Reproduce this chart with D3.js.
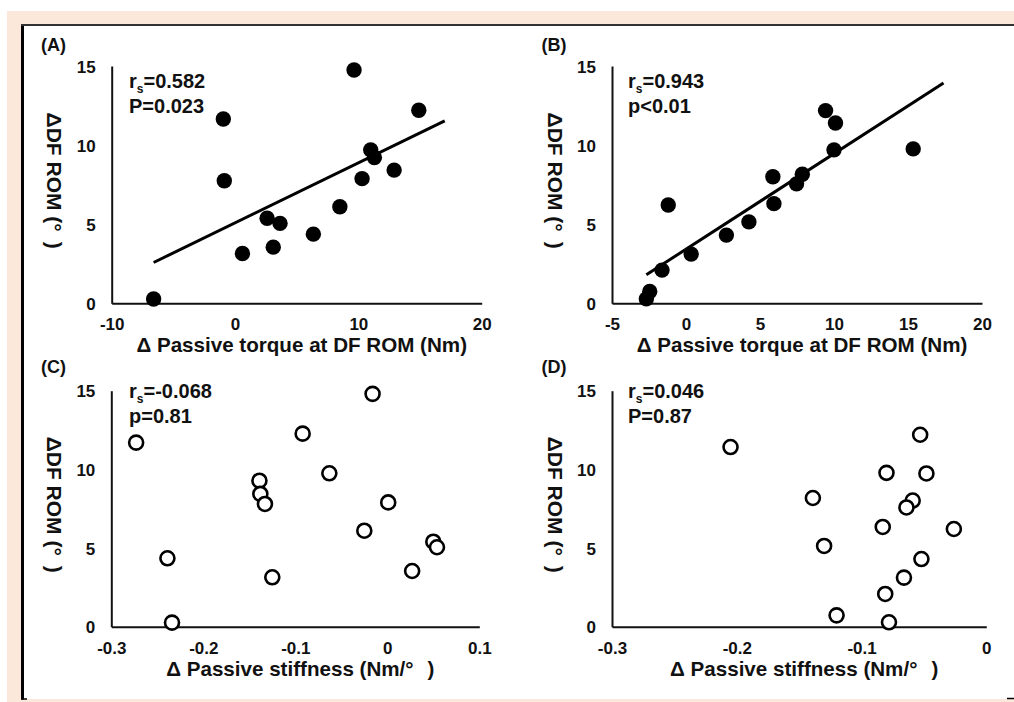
<!DOCTYPE html>
<html>
<head>
<meta charset="utf-8">
<script src="https://cdn.jsdelivr.net/npm/d3@7/dist/d3.min.js"></script>
<style>
    body { margin: 0; background: #fff; }
    svg { display: block; font-family: Arial, "Liberation Sans", Helvetica, sans-serif; font-weight: bold; }
</style>
</head>
<body>
<div id="chart"></div>
<script>
// values
// panel A: passive torque change vs ROM change
const torqueA = [9.65, 14.9, -0.95, -0.87, 11.0, 11.3, 12.9, 10.3, 8.5, 2.6, 3.65, 6.35, 3.1, 0.6, -6.6];
const romA    = [14.75, 12.2, 11.65, 7.75, 9.7, 9.22, 8.42, 7.88, 6.1, 5.38, 5.05, 4.37, 3.55, 3.15, 0.27];
const trendA  = [[-6.6, 2.58], [17.0, 11.53]];

// panel B
const torqueB = [9.43, 10.1, 15.35, 10.0, 5.87, 7.86, 7.47, 5.94, -1.2, 4.25, 2.73, 0.35, -1.62, -2.45, -2.68];
const romB    = [12.18, 11.4, 9.76, 9.7, 8.0, 8.16, 7.55, 6.3, 6.21, 5.15, 4.31, 3.11, 2.1, 0.75, 0.28];
const trendB  = [[-2.68, 1.8], [17.4, 13.93]];

// panel C: passive stiffness change
const stiffC = [-0.016, -0.092, -0.273, -0.063, -0.139, -0.138, -0.133, 0.001, -0.025, 0.05, 0.054, -0.239, 0.027, -0.125, -0.234];
const romC   = [14.8, 12.27, 11.7, 9.75, 9.28, 8.44, 7.8, 7.9, 6.1, 5.4, 5.05, 4.35, 3.54, 3.14, 0.26];

// panel D
const stiffD = [-0.053, -0.205, -0.08, -0.048, -0.139, -0.059, -0.064, -0.083, -0.026, -0.13, -0.052, -0.066, -0.081, -0.12, -0.078];
const romD   = [12.2, 11.42, 9.78, 9.74, 8.18, 8.02, 7.58, 6.34, 6.21, 5.13, 4.3, 3.12, 2.08, 0.72, 0.28];

const romTicks = [0, 5, 10, 15];
const torqueTicksA = [-10, 0, 10, 20];
const torqueTicksB = [-5, 0, 5, 10, 15, 20];
const stiffTicksC = [-0.3, -0.2, -0.1, 0, 0.1];
const stiffTicksD = [-0.3, -0.2, -0.1, 0];

const panelLabels = ["(A)", "(B)", "(C)", "(D)"];
const rsLabels = ["0.582", "0.943", "-0.068", "0.046"];
const pLabels = ["P=0.023", "p<0.01", "p=0.81", "P=0.87"];

const width = 1014, height = 702;

const svg = d3.select("#chart").append("svg")
    .attr("width", width)
    .attr("height", height)
    .attr("viewBox", `0 0 ${width} ${height}`);

// page background / frame
svg.append("rect").attr("width", width).attr("height", height).attr("fill", "#fff");
svg.append("rect").attr("x", 7).attr("y", 11).attr("width", width - 7).attr("height", height - 11).attr("fill", "#fce8da");
svg.append("rect").attr("x", 22).attr("y", 25).attr("width", width - 22).attr("height", 674).attr("fill", "#fff");
svg.append("line").attr("x1", 22.5).attr("x2", 22.5).attr("y1", 24).attr("y2", 699.5)
    .attr("stroke", "#000").attr("stroke-width", 3);
svg.append("line").attr("x1", 21).attr("x2", width).attr("y1", 25).attr("y2", 25)
    .attr("stroke", "#333").attr("stroke-width", 2);
svg.append("line").attr("x1", 21).attr("x2", 27).attr("y1", 699).attr("y2", 699)
    .attr("stroke", "#000").attr("stroke-width", 1.5);
svg.append("line").attr("x1", 1007).attr("x2", width).attr("y1", 698.5).attr("y2", 698.5)
    .attr("stroke", "#000").attr("stroke-width", 1.5);

const panels = [
    { xs: torqueA, ys: romA, trend: trendA, xDomain: [-10, 20], xRange: [111.7, 481.7], yRange: [303.3, 66],
      xTicks: torqueTicksA, filled: true, left: 0, top: 0, statY: 88, xTitle: "Δ Passive torque at DF ROM (Nm)" },
    { xs: torqueB, ys: romB, trend: trendB, xDomain: [-5, 20], xRange: [612, 982], yRange: [303.3, 66],
      xTicks: torqueTicksB, filled: true, left: 500.5, top: 0, statY: 88, xTitle: "Δ Passive torque at DF ROM (Nm)" },
    { xs: stiffC, ys: romC, trend: null, xDomain: [-0.3, 0.1], xRange: [111.3, 479.3], yRange: [626.7, 390.7],
      xTicks: stiffTicksC, filled: false, left: 0, top: 322, statY: 398, xTitle: "Δ Passive stiffness (Nm/°" },
    { xs: stiffD, ys: romD, trend: null, xDomain: [-0.3, 0], xRange: [612, 986.3], yRange: [626.7, 390.7],
      xTicks: stiffTicksD, filled: false, left: 500.5, top: 322, statY: 398, xTitle: "Δ Passive stiffness (Nm/°" }
];

panels.forEach((p, i) => drawPanel(p, i));

function drawPanel(p, i) {
    const g = svg.append("g").classed("panel", true);
    const x = d3.scaleLinear().domain(p.xDomain).range(p.xRange);
    const y = d3.scaleLinear().domain([0, 15]).range(p.yRange);
    const y0 = y(0);

    // x axis
    const xAxis = g.append("g")
        .attr("transform", `translate(0, ${y0})`)
        .call(d3.axisBottom(x).tickValues(p.xTicks).tickSize(0).tickSizeOuter(0).tickFormat(d => String(d)));
    xAxis.select(".domain").attr("stroke", "#111").attr("stroke-width", 2);
    xAxis.selectAll("text")
        .attr("y", 27).attr("dy", 0)
        .attr("font-size", 17).attr("font-family", null).attr("fill", "#111");

    // y axis
    const yAxis = g.append("g")
        .attr("transform", `translate(${p.xRange[0]}, 0)`)
        .call(d3.axisLeft(y).tickValues(romTicks).tickSize(0).tickSizeOuter(0).tickFormat(d => String(d)));
    yAxis.select(".domain").attr("stroke", "#111").attr("stroke-width", 2);
    yAxis.selectAll("text")
        .attr("x", -16).attr("dy", "0.36em")
        .attr("font-size", 17).attr("font-family", null).attr("fill", "#111");

    // trend line
    if (p.trend) {
        g.append("line")
            .attr("x1", x(p.trend[0][0])).attr("y1", y(p.trend[0][1]))
            .attr("x2", x(p.trend[1][0])).attr("y2", y(p.trend[1][1]))
            .attr("stroke", "#000").attr("stroke-width", 3);
    }

    // points
    g.selectAll("circle.pt")
        .data(p.xs.map((v, k) => [v, p.ys[k]]))
        .join("circle")
        .classed("pt", true)
        .attr("cx", d => x(d[0]))
        .attr("cy", d => y(d[1]))
        .attr("r", p.filled ? 7.7 : 7)
        .attr("fill", p.filled ? "#000" : "#fff")
        .attr("stroke", "#000")
        .attr("stroke-width", p.filled ? 0 : 2.6);

    // panel label
    g.append("text")
        .attr("x", 41 + p.left).attr("y", 51 + p.top)
        .attr("font-size", 18).attr("fill", "#111")
        .text(panelLabels[i]);

    // statistics
    const sx = 129 + p.left - (i % 2) * 1.5;
    const stat = g.append("text")
        .attr("x", sx).attr("y", p.statY)
        .attr("font-size", 20).attr("fill", "#111");
    stat.append("tspan").text("r");
    stat.append("tspan").attr("font-size", 12).attr("dy", 5).text("s");
    stat.append("tspan").attr("dy", -5).text("=" + rsLabels[i]);
    g.append("text")
        .attr("x", sx).attr("y", p.statY + 25)
        .attr("font-size", 20).attr("fill", "#111")
        .text(pLabels[i]);

    // y title, reads top to bottom
    const midY = (p.yRange[0] + p.yRange[1]) / 2 - 4;
    const yt = g.append("text")
        .attr("transform", `translate(${47 + p.left}, ${midY}) rotate(90)`)
        .attr("text-anchor", "middle")
        .attr("font-size", 21).attr("fill", "#111");
    yt.append("tspan").text("ΔDF ROM (°");
    yt.append("tspan").attr("dx", 10).text(")");

    // x title
    const xt = g.append("text")
        .attr("x", (p.xRange[0] + p.xRange[1]) / 2 + 5)
        .attr("y", y0 + 49)
        .attr("text-anchor", "middle")
        .attr("font-size", 20.6).attr("fill", "#111");
    xt.append("tspan").text(p.xTitle);
    if (!p.trend) xt.append("tspan").attr("dx", 14).text(")");
}
</script>
</body>
</html>
